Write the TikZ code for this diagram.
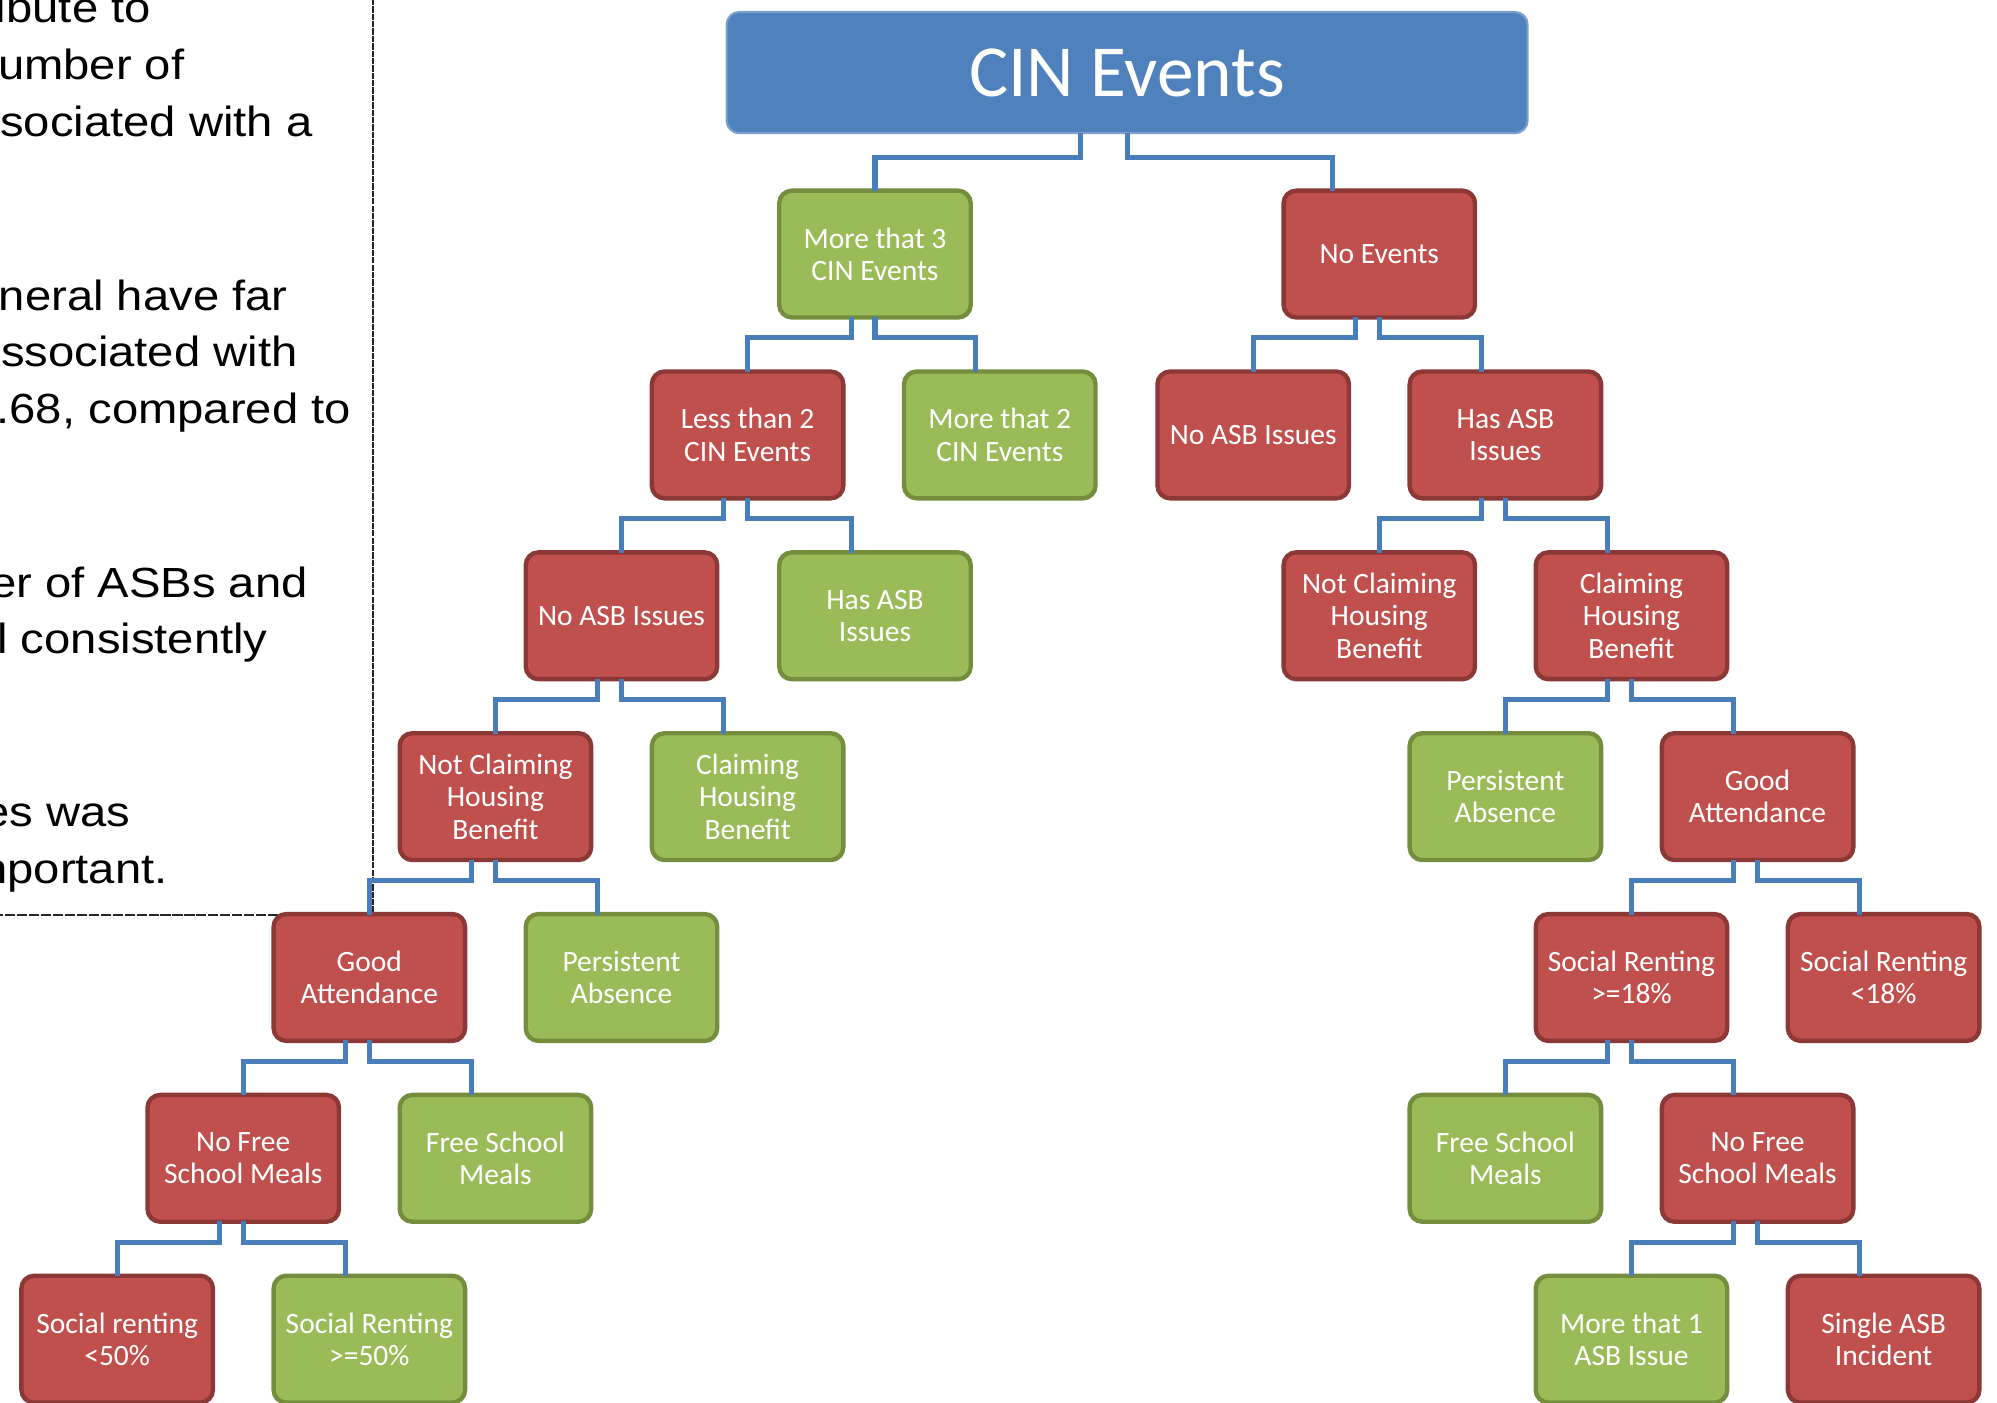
\documentclass[tikz,border=0pt]{standalone}
\usepackage{fontspec}
\usepackage{graphicx}
\setmainfont{Carlito}
\newfontfamily\notefont{Liberation Sans}
\definecolor{boxred}{RGB}{192,80,77}
\definecolor{boxredline}{RGB}{140,56,54}
\definecolor{boxgreen}{RGB}{155,187,89}
\definecolor{boxgreenline}{RGB}{117,142,62}
\definecolor{boxblue}{RGB}{79,129,189}
\definecolor{linkblue}{RGB}{74,126,187}
\tikzset{
  box/.style={rounded corners=3.6pt,line width=1.25pt,minimum width=54.5pt,minimum height=36.1pt,
    inner sep=1pt,outer sep=0pt,align=center,text=white,font=\fontsize{8.4}{9.2}\selectfont},
  redbox/.style={box,fill=boxred,draw=boxredline},
  greenbox/.style={box,fill=boxgreen,draw=boxgreenline},
  topbox/.style={rounded corners=3.6pt,fill=boxblue,draw=boxblue!75!white,line width=0.6pt,
    minimum width=228pt,minimum height=34.5pt,outer sep=0pt,text=white,font=\fontsize{20.9}{24}\selectfont},
  link/.style={draw=linkblue,line width=1.45pt,shorten <=0.6pt,shorten >=0.6pt},
  notetext/.style={inner sep=0pt,anchor=base east,font=\notefont\fontsize{12}{14}\selectfont}
}
\begin{document}
\begin{tikzpicture}[x=0.012736cm,y=-0.012736cm,line cap=rect]
\useasboundingbox (0,0) rectangle (1568,1101);
% notes on the left
\foreach \xend/\ypos/\txt [count=\i] in {119/18/ibute to, 145.3/62.8/umber of, 246/107.5/sociated with a,
  226.4/243.5/neral have far, 234.2/288/ssociated with, 276.1/332.6/{.68, compared to},
  242.1/469.5/er of ASBs and, 210.7/513.5/l consistently, 102.9/649/es was, 132.2/693.6/nportant.}
  \node[notetext] (note\i) at (\xend,\ypos) {\scalebox{1.12}[1]{\txt}};
\draw[black!85,line width=0.6pt,dash pattern=on 1.2pt off 0.9pt] (292.6,0) -- (292.6,718.4);
\draw[black!85,line width=0.6pt,dash pattern=on 2.3pt off 1.1pt] (292.6,718.4) -- (0,718.4);
% tree
\node[topbox] (cin) at (885,57) {CIN Events};
\node[greenbox] (m3) at (687,199.5) {More that 3\\CIN Events};
\node[redbox] (noev) at (1083,199.5) {No Events};
\node[redbox] (l2) at (587,341.5) {Less than 2\\CIN Events};
\node[greenbox] (m2) at (785,341.5) {More that 2\\CIN Events};
\node[redbox] (rnoasb) at (984,341.5) {No ASB Issues};
\node[redbox] (rhasasb) at (1182,341.5) {Has ASB\\Issues};
\node[redbox] (lnoasb) at (488,483.5) {No ASB Issues};
\node[greenbox] (lhasasb) at (687,483.5) {Has ASB\\Issues};
\node[redbox] (rnothb) at (1083,483.5) {Not Claiming\\Housing\\Benefit};
\node[redbox] (rhb) at (1281,483.5) {Claiming\\Housing\\Benefit};
\node[redbox] (lnothb) at (389,625.5) {Not Claiming\\Housing\\Benefit};
\node[greenbox] (lhb) at (587,625.5) {Claiming\\Housing\\Benefit};
\node[greenbox] (rpers) at (1182,625.5) {Persistent\\Absence};
\node[redbox] (rgood) at (1380,625.5) {Good\\Attendance};
\node[redbox] (lgood) at (290,767.5) {Good\\Attendance};
\node[greenbox] (lpers) at (488,767.5) {Persistent\\Absence};
\node[redbox] (rsrhigh) at (1281,767.5) {Social Renting\\>=18\%};
\node[redbox] (rsrlow) at (1479,767.5) {Social Renting\\<18\%};
\node[redbox] (lnofsm) at (191,909.5) {No Free\\School Meals};
\node[greenbox] (lfsm) at (389,909.5) {Free School\\Meals};
\node[greenbox] (rfsm) at (1182,909.5) {Free School\\Meals};
\node[redbox] (rnofsm) at (1380,909.5) {No Free\\School Meals};
\node[redbox] (lsrlow) at (92,1051.5) {Social renting\\<50\%};
\node[greenbox] (lsrhigh) at (290,1051.5) {Social Renting\\>=50\%};
\node[greenbox] (rmore) at (1281,1051.5) {More that 1\\ASB Issue};
\node[redbox] (rsingle) at (1479,1051.5) {Single ASB\\Incident};
% connectors
\draw[link] ([xshift=-13.4pt]cin.south) -- ++(0,19) -| (m3.north);
\draw[link] (cin.south) -- ++(0,19) -| ([xshift=-13.4pt]noev.north);
\foreach \p/\l/\r in {m3/l2/m2, noev/rnoasb/rhasasb, l2/lnoasb/lhasasb, rhasasb/rnothb/rhb,
  lnoasb/lnothb/lhb, rhb/rpers/rgood, lnothb/lgood/lpers, rgood/rsrhigh/rsrlow,
  lgood/lnofsm/lfsm, rsrhigh/rfsm/rnofsm, lnofsm/lsrlow/lsrhigh, rnofsm/rmore/rsingle}{
  \draw[link] ([xshift=-6.8pt]\p.south) -- ++(0,16) -| (\l.north);
  \draw[link] (\p.south) -- ++(0,16) -| ([xshift=-6.8pt]\r.north);
}
\end{tikzpicture}
\end{document}
